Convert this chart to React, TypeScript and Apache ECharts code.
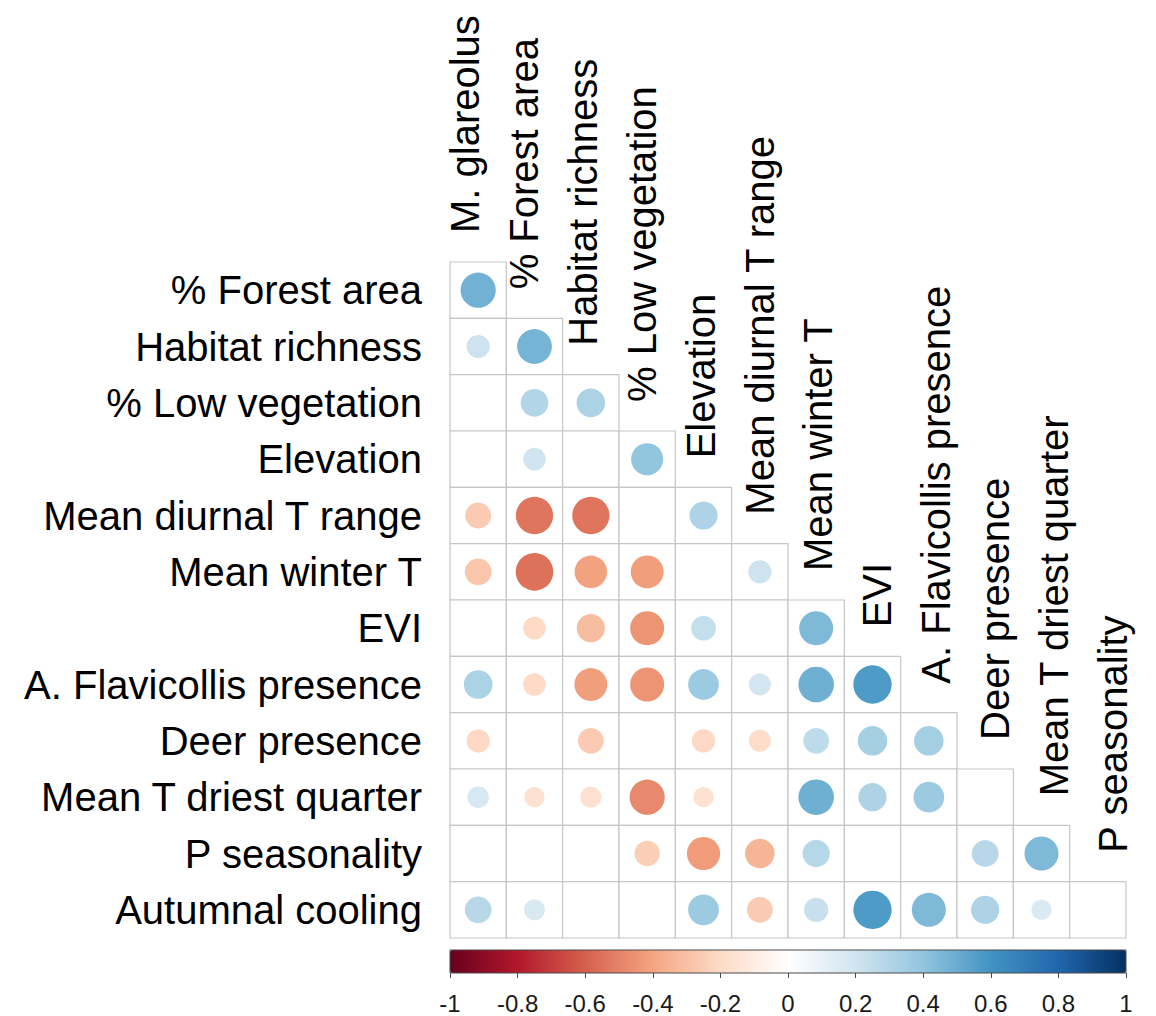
import React, { useEffect, useRef } from "react";
import * as echarts from "echarts";

// Column variables (top, rotated labels)
const columns = [
  "M. glareolus",
  "% Forest area",
  "Habitat richness",
  "% Low vegetation",
  "Elevation",
  "Mean diurnal T range",
  "Mean winter T",
  "EVI",
  "A. Flavicollis presence",
  "Deer presence",
  "Mean T driest quarter",
  "P seasonality",
];

// Row variables (left labels)
const rows = [
  "% Forest area",
  "Habitat richness",
  "% Low vegetation",
  "Elevation",
  "Mean diurnal T range",
  "Mean winter T",
  "EVI",
  "A. Flavicollis presence",
  "Deer presence",
  "Mean T driest quarter",
  "P seasonality",
  "Autumnal cooling",
];

// Lower-triangle correlations, one array per row (null = blank cell)
const corrForestArea = [0.48];
const corrHabitatRichness = [0.21, 0.47];
const corrLowVegetation = [null, 0.3, 0.32];
const corrElevation = [null, 0.2, null, 0.4];
const corrDiurnalRange = [-0.26, -0.54, -0.54, null, 0.31];
const corrWinterT = [-0.28, -0.55, -0.41, -0.42, null, 0.21];
const corrEVI = [null, -0.2, -0.31, -0.45, 0.24, null, 0.45];
const corrFlavicollis = [0.32, -0.2, -0.42, -0.45, 0.37, 0.19, 0.49, 0.57];
const corrDeer = [-0.21, null, -0.26, null, -0.21, -0.19, 0.26, 0.34, 0.34];
const corrDriestQuarter = [0.18, -0.16, -0.17, -0.48, -0.16, null, 0.49, 0.31, 0.37, null];
const corrPSeasonality = [null, null, null, -0.25, -0.43, -0.34, 0.29, null, null, 0.28, 0.45];
const corrAutumnalCooling = [0.28, 0.17, null, null, 0.37, -0.26, 0.23, 0.57, 0.45, 0.31, 0.16, null];

const corrRows = [
  corrForestArea,
  corrHabitatRichness,
  corrLowVegetation,
  corrElevation,
  corrDiurnalRange,
  corrWinterT,
  corrEVI,
  corrFlavicollis,
  corrDeer,
  corrDriestQuarter,
  corrPSeasonality,
  corrAutumnalCooling,
];

// Colour bar
const colorMin = -1;
const colorMax = 1;
const colorStep = 0.2;
const rdbuPalette = [
  "#67001F",
  "#B2182B",
  "#D6604D",
  "#F4A582",
  "#FDDBC7",
  "#FFFFFF",
  "#D1E5F0",
  "#92C5DE",
  "#4393C3",
  "#2166AC",
  "#053061",
];

const FONT = "'Liberation Sans', Arial, Helvetica, sans-serif";

export default function App() {
  const ref = useRef<HTMLDivElement>(null);

  useEffect(() => {
    if (!ref.current) return;
    const chart = echarts.init(ref.current, null, { renderer: "svg" });

    const cellData: number[][] = [];
    rows.forEach((_, i) => {
      for (let j = 0; j <= i; j++) cellData.push([j, i]);
    });

    const circleData: number[][] = [];
    corrRows.forEach((arr, i) => {
      arr.forEach((v, j) => {
        if (v !== null && v !== undefined) circleData.push([j, i, v as number]);
      });
    });

    const labelData = columns.map((_, j) => [j, j]);

    const option: any = {
      animation: false,
      backgroundColor: "#ffffff",
      grid: [
        { left: 450, top: 262, width: 676, height: 676 },
        {
          left: 450,
          top: 950,
          width: 676,
          height: 23,
          show: true,
          borderColor: "#4a4a4a",
          borderWidth: 1,
          backgroundColor: "transparent",
          z: 10,
        },
      ],
      xAxis: [
        {
          gridIndex: 0,
          type: "category",
          data: columns,
          axisLine: { show: false },
          axisTick: { show: false },
          axisLabel: { show: false },
          splitLine: { show: false },
        },
        {
          gridIndex: 1,
          type: "value",
          min: colorMin,
          max: colorMax,
          interval: colorStep,
          position: "bottom",
          z: 10,
          axisLine: { show: false },
          axisTick: { show: true, length: 5, lineStyle: { color: "#4a4a4a", width: 1 } },
          axisLabel: { fontSize: 24, color: "#1a1a1a", margin: 18, fontFamily: FONT },
          splitLine: { show: false },
        },
      ],
      yAxis: [
        {
          gridIndex: 0,
          type: "category",
          data: rows,
          inverse: true,
          axisLine: { show: false },
          axisTick: { show: false },
          splitLine: { show: false },
          axisLabel: { fontSize: 40, color: "#000000", margin: 28, fontFamily: FONT },
        },
        { gridIndex: 1, type: "value", show: false, min: 0, max: 1 },
      ],
      visualMap: {
        type: "continuous",
        min: colorMin,
        max: colorMax,
        seriesIndex: 1,
        dimension: 2,
        orient: "horizontal",
        left: 450,
        top: 950,
        itemWidth: 23,
        itemHeight: 676,
        calculable: false,
        hoverLink: false,
        padding: 0,
        inRange: { color: rdbuPalette },
      },
      series: [
        {
          type: "custom",
          name: "cells",
          xAxisIndex: 0,
          yAxisIndex: 0,
          silent: true,
          clip: false,
          z: 1,
          data: cellData,
          renderItem: (params: any, api: any) => {
            const c = api.coord([api.value(0), api.value(1)]);
            const s = api.size([1, 1]);
            return {
              type: "rect",
              shape: { x: c[0] - s[0] / 2, y: c[1] - s[1] / 2, width: s[0], height: s[1] },
              style: { fill: "#ffffff", stroke: "#c6c6c6", lineWidth: 1.2 },
            };
          },
        },
        {
          type: "custom",
          name: "corr",
          xAxisIndex: 0,
          yAxisIndex: 0,
          silent: true,
          clip: false,
          z: 3,
          dimensions: ["x", "y", "r"],
          data: circleData,
          renderItem: (params: any, api: any) => {
            const c = api.coord([api.value(0), api.value(1)]);
            const s = api.size([1, 1]);
            const rad = 0.45 * Math.sqrt(Math.abs(api.value(2))) * s[0];
            return {
              type: "circle",
              shape: { cx: c[0], cy: c[1], r: rad },
              style: { fill: api.visual("color") },
            };
          },
        },
        {
          type: "custom",
          name: "colLabels",
          xAxisIndex: 0,
          yAxisIndex: 0,
          silent: true,
          clip: false,
          z: 4,
          data: labelData,
          renderItem: (params: any, api: any) => {
            const j = api.value(0);
            const c = api.coord([j, api.value(1)]);
            const s = api.size([1, 1]);
            return {
              type: "text",
              x: c[0] - 13 + j * 2.55,
              y: c[1] - s[1] / 2 - 29,
              rotation: Math.PI / 2,
              style: {
                text: columns[j],
                fill: "#000000",
                fontSize: 40,
                fontFamily: FONT,
                align: "left",
                verticalAlign: "middle",
              },
            };
          },
        },
      ],
    };

    chart.setOption(option);
    return () => chart.dispose();
  }, []);

  return (
    <div
      ref={ref}
      style={{ position: "fixed", left: 0, top: 0, width: 1156, height: 1016, background: "#ffffff" }}
    />
  );
}
